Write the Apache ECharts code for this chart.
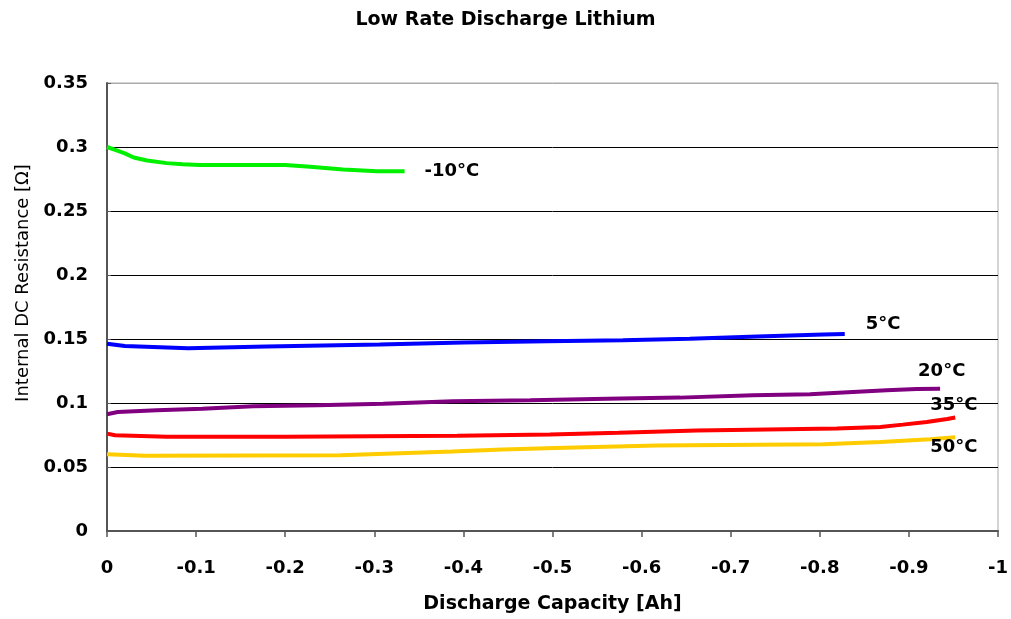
<!DOCTYPE html>
<html>
<head>
<meta charset="utf-8">
<script src="https://cdn.jsdelivr.net/npm/echarts@6/dist/echarts.min.js"></script>
<style>
html,body{margin:0;padding:0;background:#fff;}
#chart{width:1011px;height:619px;}
</style>
</head>
<body>
<div id="chart"></div>
<script>
// ---- data ----
const seriesNames = ['-10°C', '5°C', '20°C', '35°C', '50°C'];

const capM10 = [0, -0.01, -0.02, -0.03, -0.045, -0.067, -0.085, -0.104, -0.15, -0.2, -0.228, -0.265, -0.303, -0.334];
const resM10 = [0.300, 0.2975, 0.295, 0.2918, 0.2895, 0.2874, 0.2865, 0.286, 0.286, 0.286, 0.2845, 0.2825, 0.281, 0.281];

const cap5 = [0, -0.02, -0.091, -0.179, -0.306, -0.4, -0.494, -0.579, -0.654, -0.73, -0.804, -0.828];
const res5 = [0.1463, 0.1445, 0.1428, 0.1442, 0.1458, 0.1472, 0.1483, 0.149, 0.1502, 0.152, 0.1536, 0.154];

const cap20 = [0, -0.012, -0.056, -0.107, -0.164, -0.236, -0.31, -0.388, -0.475, -0.561, -0.643, -0.725, -0.789, -0.837, -0.875, -0.909, -0.935];
const res20 = [0.0912, 0.093, 0.0943, 0.0956, 0.0974, 0.0982, 0.0995, 0.1013, 0.1021, 0.1034, 0.1042, 0.106, 0.1068, 0.1086, 0.1099, 0.111, 0.1112];

const cap35 = [0, -0.009, -0.067, -0.2, -0.393, -0.497, -0.574, -0.662, -0.819, -0.868, -0.893, -0.92, -0.943, -0.952];
const res35 = [0.0761, 0.0748, 0.0737, 0.0737, 0.0745, 0.0754, 0.0768, 0.0785, 0.08, 0.0813, 0.0831, 0.0852, 0.0875, 0.0886];

const cap50 = [0, -0.043, -0.262, -0.329, -0.387, -0.444, -0.514, -0.617, -0.804, -0.868, -0.924, -0.952];
const res50 = [0.06, 0.0588, 0.0592, 0.0608, 0.0622, 0.0637, 0.065, 0.0668, 0.0678, 0.0696, 0.0717, 0.0733];

const xTicks = [0, -0.1, -0.2, -0.3, -0.4, -0.5, -0.6, -0.7, -0.8, -0.9, -1];
const yTicks = [0, 0.05, 0.1, 0.15, 0.2, 0.25, 0.3, 0.35];

// ---- styling ----
const colors = ['#00f000', '#0000ff', '#800080', '#ff0000', '#ffcc00'];
const labelOffsets = [[20, 0], [21, -10], [-22, -17], [-25, -12], [-25, 10]];
const caps = [capM10, cap5, cap20, cap35, cap50];
const ress = [resM10, res5, res20, res35, res50];

function pairs(xs, ys) { return xs.map((x, i) => [x, ys[i]]); }

const txt = { color: '#000', fontFamily: 'DejaVu Sans', fontWeight: 'bold', fontSize: 18 };

const chart = echarts.init(document.getElementById('chart'), null, { renderer: 'canvas' });
chart.setOption({
  animation: false,
  backgroundColor: '#fff',
  title: {
    text: 'Low Rate Discharge Lithium',
    left: 'center',
    top: 6,
    textStyle: Object.assign({}, txt, { fontSize: 19 })
  },
  grid: {
    left: 107, right: 11, top: 83, bottom: 87,
    show: true, borderColor: '#aaa', borderWidth: 1, backgroundColor: 'transparent'
  },
  xAxis: {
    type: 'value',
    inverse: true,
    min: xTicks[xTicks.length - 1],
    max: xTicks[0],
    interval: 0.1,
    name: 'Discharge Capacity [Ah]',
    nameLocation: 'middle',
    nameGap: 64,
    nameTextStyle: Object.assign({}, txt, { fontSize: 19 }),
    axisLine: { lineStyle: { color: '#555', width: 2 } },
    axisTick: { show: true, inside: false, length: 6, lineStyle: { color: '#555', width: 1.5 } },
    axisLabel: Object.assign({}, txt, { margin: 28 }),
    splitLine: { show: false }
  },
  yAxis: {
    type: 'value',
    min: yTicks[0],
    max: yTicks[yTicks.length - 1],
    interval: 0.05,
    name: 'Internal DC Resistance [Ω]',
    nameLocation: 'middle',
    nameGap: 72,
    nameTextStyle: { color: '#000', fontFamily: 'DejaVu Sans', fontSize: 18, padding: [0, 0, 0, 48] },
    axisLine: { show: true, lineStyle: { color: '#555', width: 2 } },
    axisTick: { show: true, inside: true, length: 4, lineStyle: { color: '#555' } },
    axisLabel: Object.assign({}, txt, { margin: 19 }),
    splitLine: { show: true, lineStyle: { color: ['#000', '#000', '#000', '#000', '#000', '#000', '#000', '#aaa'], width: 1 } }
  },
  series: seriesNames.map((name, i) => ({
    name: name,
    type: 'line',
    data: pairs(caps[i], ress[i]),
    showSymbol: false,
    symbol: 'none',
    lineStyle: { color: colors[i], width: 4 },
    itemStyle: { color: colors[i] },
    z: 3,
    endLabel: Object.assign({ show: true, formatter: name, distance: 0, offset: labelOffsets[i], align: 'left', verticalAlign: 'middle' }, txt)
  }))
});
</script>
</body>
</html>
